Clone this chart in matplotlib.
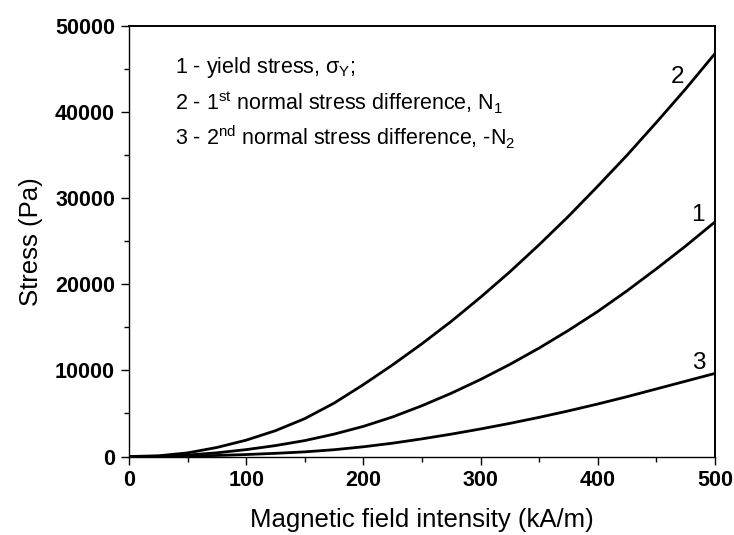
import matplotlib
matplotlib.use("Agg")
import matplotlib.pyplot as plt
from matplotlib.ticker import MultipleLocator

plt.rcParams['font.family'] = ['Liberation Sans', 'DejaVu Sans']
plt.rcParams['mathtext.fontset'] = 'custom'
plt.rcParams['mathtext.rm'] = 'Liberation Sans'
plt.rcParams['mathtext.it'] = 'Liberation Sans'
plt.rcParams['mathtext.sf'] = 'Liberation Sans'

# Data
field = [0, 25, 50, 75, 100, 125, 150, 175, 200, 225, 250,
         275, 300, 325, 350, 375, 400, 425, 450, 475, 500]
yield_stress = [0, 30, 170, 430, 800, 1270, 1850, 2600, 3500, 4600, 5900,
                7350, 8950, 10700, 12600, 14650, 16850, 19250, 21800, 24450, 27250]
n1 = [0, 80, 420, 1050, 1900, 3000, 4400, 6200, 8350, 10650, 13100,
      15700, 18500, 21450, 24600, 27900, 31400, 35000, 38800, 42700, 46800]
minus_n2 = [0, 10, 50, 120, 230, 370, 540, 790, 1130, 1550, 2050,
            2600, 3200, 3850, 4550, 5300, 6100, 6950, 7850, 8750, 9650]

xticks = [0, 100, 200, 300, 400, 500]
yticks = [0, 10000, 20000, 30000, 40000, 50000]

legend_lines = [
    r"1 - yield stress, $\sigma_{Y}$;",
    r"2 - 1$^{st}$ normal stress difference, N$_{1}$",
    r"3 - 2$^{nd}$ normal stress difference, -N$_{2}$",
]
curve_labels = ["1", "2", "3"]

fig = plt.figure(figsize=(7.34, 5.35), dpi=100)
ax = fig.add_axes([0.1757, 0.1467, 0.7984, 0.8047])

for ys in (n1, yield_stress, minus_n2):
    ax.plot(field, ys, color='black', lw=2.0, solid_capstyle='butt')

ax.set_xlim(0, 500)
ax.set_ylim(0, 50000)
ax.set_xticks(xticks)
ax.set_yticks(yticks)
ax.xaxis.set_minor_locator(MultipleLocator(50))
ax.yaxis.set_minor_locator(MultipleLocator(5000))
ax.tick_params(which='major', direction='out', length=6, width=1.0,
               labelsize=15.5, top=False, right=False, pad=4)
ax.tick_params(which='minor', direction='out', length=3.5, width=1.0,
               top=False, right=False)
for lab in ax.get_xticklabels() + ax.get_yticklabels():
    lab.set_fontweight('bold')

for side in ('left', 'bottom'):
    ax.spines[side].set_linewidth(1.0)
for side in ('top', 'right'):
    ax.spines[side].set_linewidth(1.4)

ax.set_xlabel("Magnetic field intensity (kA/m)", fontsize=18.5, labelpad=12)
ax.set_ylabel("Stress (Pa)", fontsize=18.5, labelpad=9)

# legend-like text
legend_y = [44560, 40230, 36165]
for txt, yy in zip(legend_lines, legend_y):
    ax.text(39, yy, txt, fontsize=15.5, va='baseline', ha='left')

# curve labels
ax.text(468, 44060, curve_labels[1], fontsize=17.5, ha='center', va='center')
ax.text(485, 28040, curve_labels[0], fontsize=17.5, ha='center', va='center')
ax.text(486, 10855, curve_labels[2], fontsize=17.5, ha='center', va='center')

fig.savefig("out.png", dpi=100)
